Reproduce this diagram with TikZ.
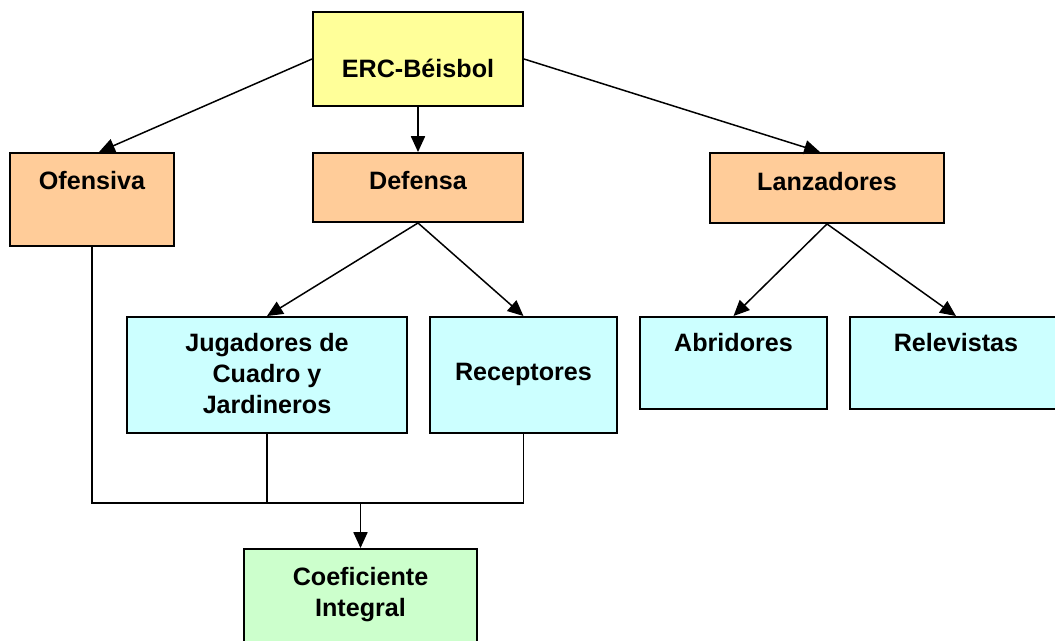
\documentclass[tikz,border=0pt]{standalone}
\usepackage{fontspec}
\setmainfont{Liberation Sans}
\usetikzlibrary{arrows.meta, positioning}
\definecolor{amarillo}{HTML}{FFFF99}
\definecolor{naranja}{HTML}{FFCC99}
\definecolor{celeste}{HTML}{CCFFFF}
\definecolor{verde}{HTML}{CCFFCC}
\tikzset{%
    caja/.style={rectangle, draw, line width=1.1pt, inner sep=0pt},
    txt/.style={anchor=north, inner sep=0pt, align=center, font=\fontsize{14.3}{17.6}\selectfont\bfseries},
    lin/.style={line width=0.85pt},
    lina/.style={line width=0.85pt, -{Triangle[length=9pt, width=8pt]}},
}

\begin{document}
\begin{tikzpicture}
    \useasboundingbox (0,0) rectangle (21.1,-12.82);
    \clip (0,0) rectangle (21.1,-12.82);
    % cajas
    \node [caja, fill=amarillo, minimum width=4.2cm, minimum height=1.88cm] (erc) at (8.36,-1.18) {};
    \node [caja, fill=naranja, minimum width=3.28cm, minimum height=1.86cm] (ofe) at (1.84,-3.99) {};
    \node [caja, fill=naranja, minimum width=4.2cm, minimum height=1.38cm] (def) at (8.36,-3.75) {};
    \node [caja, fill=naranja, minimum width=4.68cm, minimum height=1.4cm] (lan) at (16.54,-3.76) {};
    \node [caja, fill=celeste, minimum width=5.6cm, minimum height=2.32cm] (jug) at (5.34,-7.5) {};
    \node [caja, fill=celeste, minimum width=3.74cm, minimum height=2.32cm] (rec) at (10.47,-7.5) {};
    \node [caja, fill=celeste, minimum width=3.74cm, minimum height=1.84cm] (abr) at (14.67,-7.26) {};
    \node [caja, fill=celeste, minimum width=4.24cm, minimum height=1.84cm] (rel) at (19.12,-7.26) {};
    \node [caja, fill=verde, minimum width=4.66cm, minimum height=2cm] (coe) at (7.21,-11.98) {};
    % textos
    \node [txt, below=0.96cm of erc.north] (ercT) {ERC-Béisbol};
    \node [txt, below=0.38cm of ofe.north] (ofeT) {Ofensiva};
    \node [txt, below=0.38cm of def.north] (defT) {Defensa};
    \node [txt, below=0.40cm of lan.north] (lanT) {Lanzadores};
    \node [txt, below=0.34cm of jug.north] (jugT) {Jugadores de\\Cuadro y\\Jardineros};
    \node [txt, below=0.94cm of rec.north] (recT) {Receptores};
    \node [txt, below=0.34cm of abr.north] (abrT) {Abridores};
    \node [txt, below=0.34cm of rel.north] (relT) {Relevistas};
    \node [txt, below=0.38cm of coe.north] (coeT) {Coeficiente\\Integral};
    % conectores
    \draw [lina] (erc.west) -- ([xshift=0.14cm]ofe.north);
    \draw [lina] (erc.south) -- (def.north);
    \draw [lina] (erc.east) -- ([xshift=-0.14cm]lan.north);
    \draw [lina] (def.south) -- (jug.north);
    \draw [lina] (def.south) -- (rec.north);
    \draw [lina] (lan.south) -- (abr.north);
    \draw [lina] (lan.south) -- (rel.north);
    \coordinate (bus) at (0,-10.06);
    \draw [lin] (ofe.south) |- (rec.south |- bus) -- (rec.south);
    \draw [lin] (jug.south) -- (jug.south |- bus);
    \draw [lina] (coe.north |- bus) -- (coe.north);
\end{tikzpicture}
\end{document}
